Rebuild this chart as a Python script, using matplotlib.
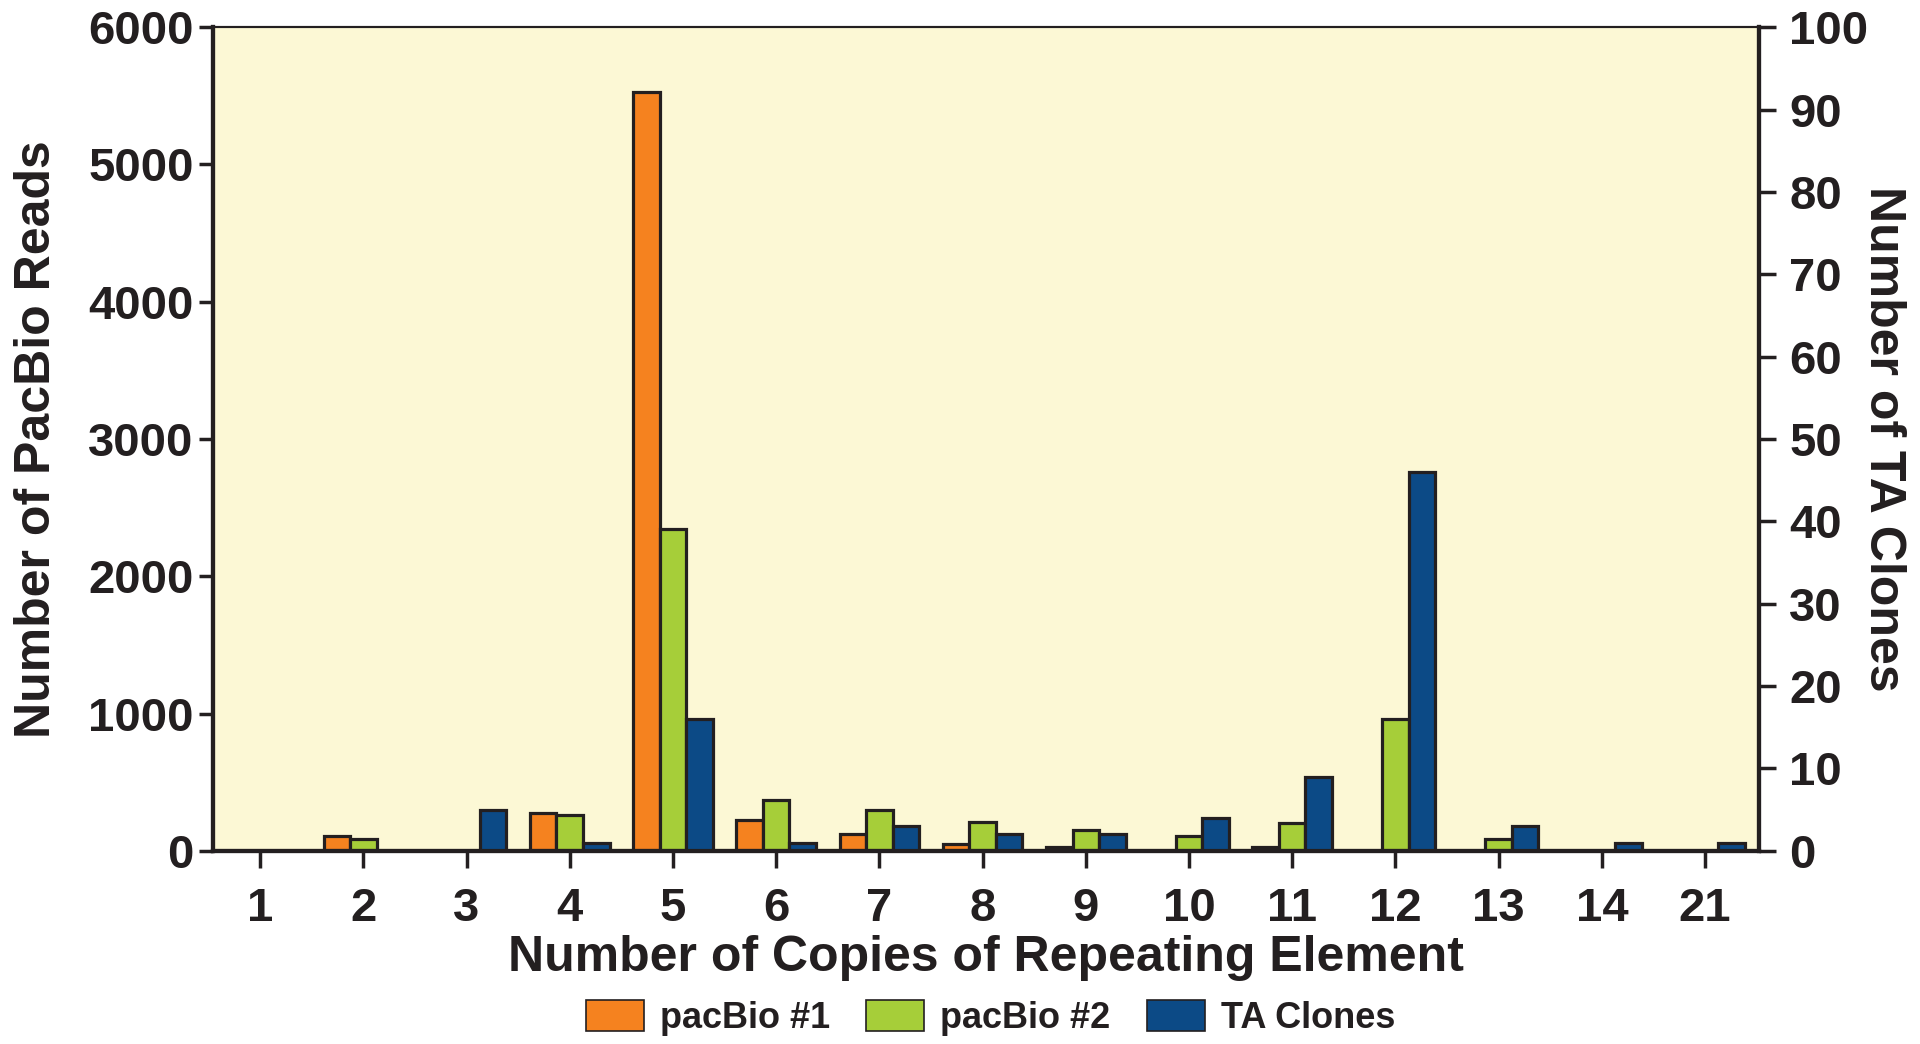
import matplotlib
matplotlib.use("Agg")
import matplotlib.pyplot as plt
import numpy as np

categories = ["1", "2", "3", "4", "5", "6", "7", "8", "9", "10", "11", "12", "13", "14", "21"]
pacbio1 = [0, 110, 0, 275, 5530, 225, 120, 50, 25, 0, 25, 0, 0, 0, 0]
pacbio2 = [0, 90, 0, 260, 2345, 370, 300, 210, 150, 110, 200, 960, 90, 0, 0]
ta_clones = [0, 0, 5, 1, 16, 1, 3, 2, 2, 4, 9, 46, 3, 1, 1]
left_ticks = [0, 1000, 2000, 3000, 4000, 5000, 6000]
right_ticks = [0, 10, 20, 30, 40, 50, 60, 70, 80, 90, 100]

plt.rcParams['font.family'] = ['Liberation Sans', 'DejaVu Sans']
plt.rcParams['font.weight'] = 'bold'

INK = '#231F20'
C_ORANGE = '#F5821F'
C_GREEN = '#A6CE39'
C_BLUE = '#0C4A86'
BG = '#FCF8D5'

fig = plt.figure(figsize=(19.2, 10.44), dpi=100)
ax = fig.add_axes([0.111, 0.185, 0.805, 0.789])
ax2 = ax.twinx()

x = np.arange(len(categories))
w = 0.257
lw = 2.3
b1 = ax.bar(x - w, pacbio1, w, color=C_ORANGE, edgecolor=INK, linewidth=lw, label='pacBio #1')
b2 = ax.bar(x, pacbio2, w, color=C_GREEN, edgecolor=INK, linewidth=lw, label='pacBio #2')
b3 = ax2.bar(x + w, ta_clones, w, color=C_BLUE, edgecolor=INK, linewidth=lw, label='TA Clones')

ax.set_facecolor(BG)
ax2.patch.set_visible(False)
ax.set_xlim(-0.455, 14.52)
ax.set_ylim(0, 6000)
ax2.set_ylim(0, 100)
ax.set_xticks(x)
ax.set_xticklabels(categories)
ax.set_yticks(left_ticks)
ax2.set_yticks(right_ticks)

for a in (ax, ax2):
    for s in a.spines.values():
        s.set_color(INK)
        s.set_linewidth(3)
    a.spines['top'].set_linewidth(1.5)

ax.tick_params(axis='x', length=12, width=2.5, color=INK, pad=14, labelsize=34, labelcolor=INK)
ax.tick_params(axis='y', length=10, width=2.5, color=INK, pad=4, labelsize=34, labelcolor=INK)
ax2.tick_params(axis='y', length=12, width=2.5, color=INK, pad=10, labelsize=34, labelcolor=INK)

ax.set_xlabel('Number of Copies of Repeating Element', fontsize=36, fontweight='bold', color=INK, labelpad=3)
ax.set_ylabel('Number of PacBio Reads', fontsize=36, fontweight='bold', color=INK, labelpad=20)
ax2.set_ylabel('Number of TA Clones', fontsize=36, fontweight='bold', color=INK, rotation=270, labelpad=27)

leg = fig.legend([b1, b2, b3], ['pacBio #1', 'pacBio #2', 'TA Clones'], loc='center',
                 bbox_to_anchor=(0.516, 0.025), ncol=3, frameon=False, fontsize=26,
                 handlelength=1.6, handleheight=0.95, handletextpad=0.45, columnspacing=1.0)
for p in leg.get_patches():
    p.set_linewidth(1.2)
for t in leg.get_texts():
    t.set_color(INK)
    t.set_fontweight('bold')

fig.savefig('out.png', dpi=100)
